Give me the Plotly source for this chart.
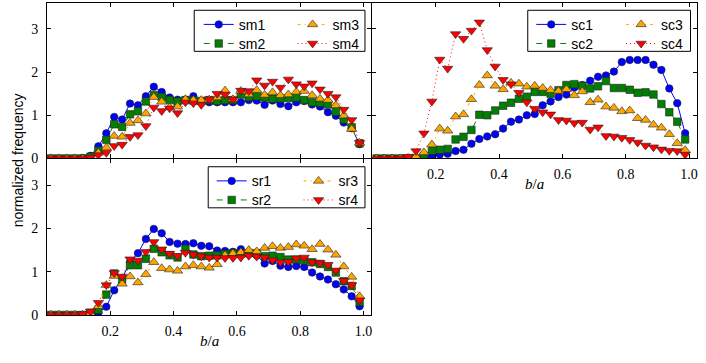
import plotly.graph_objects as go

W, H = 706, 363

# bin centres of b/a
x_centres = [0.0125, 0.0375, 0.0625, 0.0875, 0.1125, 0.1375, 0.1625, 0.1875, 0.2125, 0.2375,
             0.2625, 0.2875, 0.3125, 0.3375, 0.3625, 0.3875, 0.4125, 0.4375, 0.4625, 0.4875,
             0.5125, 0.5375, 0.5625, 0.5875, 0.6125, 0.6375, 0.6625, 0.6875, 0.7125, 0.7375,
             0.7625, 0.7875, 0.8125, 0.8375, 0.8625, 0.8875, 0.9125, 0.9375, 0.9625, 0.9875]

sm1 = [0, 0, 0, 0, 0.01, 0.06, 0.28, 0.58, 0.96, 0.90, 1.27, 1.23, 1.44, 1.66, 1.54, 1.41, 1.36, 1.36, 1.44, 1.31,
       1.30, 1.30, 1.30, 1.30, 1.30, 1.35, 1.34, 1.24, 1.34, 1.26, 1.21, 1.30, 1.33, 1.25, 1.20, 1.07, 0.99, 0.83, 0.70, 0.33]
sm2 = [0, 0, 0, 0, 0, 0.04, 0.18, 0.43, 0.79, 0.73, 1.02, 1.09, 1.32, 1.47, 1.42, 1.35, 1.32, 1.35, 1.34, 1.33,
       1.35, 1.33, 1.35, 1.35, 1.48, 1.42, 1.44, 1.41, 1.38, 1.39, 1.40, 1.41, 1.35, 1.30, 1.29, 1.25, 1.08, 0.90, 0.72, 0.35]
sm3 = [0, 0, 0, 0, 0, 0, 0.13, 0.25, 0.52, 0.50, 0.82, 0.88, 1.04, 1.42, 1.31, 1.18, 1.20, 1.37, 1.35, 1.35,
       1.36, 1.41, 1.57, 1.37, 1.56, 1.48, 1.58, 1.47, 1.53, 1.46, 1.48, 1.54, 1.56, 1.46, 1.38, 1.35, 1.23, 0.99, 0.68, 0.36]
sm4 = [0, 0, 0, 0, 0, 0.02, 0.08, 0.13, 0.29, 0.32, 0.50, 0.54, 0.75, 1.18, 1.10, 1.16, 1.05, 1.30, 1.28, 1.24,
       1.37, 1.50, 1.48, 1.37, 1.57, 1.56, 1.81, 1.69, 1.78, 1.64, 1.83, 1.72, 1.67, 1.74, 1.60, 1.50, 1.42, 1.13, 0.89, 0.36]

sc1 = [0, 0, 0, 0, 0, 0, 0.03, 0.06, 0.09, 0.11, 0.17, 0.20, 0.34, 0.45, 0.51, 0.56, 0.69, 0.85, 0.90, 1.00,
       1.03, 1.23, 1.32, 1.42, 1.48, 1.64, 1.70, 1.80, 1.89, 1.92, 2.01, 2.23, 2.28, 2.28, 2.28, 2.17, 2.05, 1.62, 1.28, 0.58]
sc2 = [0, 0, 0, 0, 0, 0, 0.05, 0.18, 0.20, 0.22, 0.44, 0.50, 0.66, 1.01, 1.00, 1.11, 1.22, 1.29, 1.38, 1.43,
       1.54, 1.54, 1.50, 1.58, 1.70, 1.72, 1.68, 1.62, 1.67, 1.79, 1.63, 1.63, 1.59, 1.52, 1.53, 1.48, 1.26, 1.07, 0.85, 0.44]
sc3 = [0, 0, 0, 0, 0.01, 0.04, 0.14, 0.32, 0.69, 0.64, 0.97, 1.02, 1.37, 1.70, 1.92, 1.68, 1.60, 1.75, 1.73, 1.66,
       1.68, 1.63, 1.58, 1.56, 1.60, 1.46, 1.55, 1.30, 1.36, 1.20, 1.17, 1.09, 1.11, 0.93, 0.89, 0.78, 0.71, 0.56, 0.35, 0.19]
sc4 = [0, 0, 0, 0, 0.04, 0.17, 0.58, 1.32, 2.29, 2.08, 2.88, 2.77, 2.96, 3.15, 2.51, 2.13, 1.82, 1.72, 1.52, 1.30,
       1.15, 1.07, 1.02, 0.89, 0.88, 0.82, 0.83, 0.67, 0.72, 0.52, 0.51, 0.48, 0.43, 0.37, 0.30, 0.26, 0.21, 0.18, 0.17, 0.09]

sr1 = [0, 0, 0, 0, 0, 0.02, 0.05, 0.19, 0.57, 0.85, 1.22, 1.43, 1.76, 1.99, 1.89, 1.69, 1.65, 1.64, 1.66, 1.60,
       1.59, 1.49, 1.48, 1.46, 1.52, 1.42, 1.38, 1.19, 1.25, 1.14, 1.11, 1.13, 1.11, 0.98, 0.89, 0.82, 0.71, 0.59, 0.43, 0.20]
sr2 = [0, 0, 0, 0, 0, 0.05, 0.12, 0.47, 0.96, 0.82, 1.15, 1.15, 1.30, 1.53, 1.45, 1.38, 1.33, 1.53, 1.40, 1.36,
       1.37, 1.38, 1.41, 1.43, 1.42, 1.43, 1.43, 1.36, 1.37, 1.34, 1.28, 1.28, 1.26, 1.22, 1.18, 1.11, 0.98, 0.78, 0.67, 0.30]
sr3 = [0, 0, 0, 0, 0, 0.03, 0.20, 0.69, 0.90, 0.72, 0.89, 0.75, 0.94, 1.22, 1.08, 1.05, 1.02, 1.12, 1.15, 1.12,
       1.09, 1.17, 1.38, 1.42, 1.45, 1.50, 1.47, 1.55, 1.59, 1.55, 1.57, 1.63, 1.60, 1.52, 1.64, 1.51, 1.39, 1.12, 0.88, 0.43]
sr4 = [0, 0, 0, 0, 0.02, 0.08, 0.28, 0.69, 0.97, 0.89, 1.29, 1.26, 1.46, 1.69, 1.52, 1.42, 1.37, 1.44, 1.40, 1.36,
       1.33, 1.33, 1.32, 1.32, 1.33, 1.37, 1.35, 1.33, 1.27, 1.22, 1.23, 1.31, 1.33, 1.22, 1.20, 1.16, 1.03, 0.79, 0.69, 0.34]

x_ticks = [0.2, 0.4, 0.6, 0.8, 1.0]
y_ticks = [0, 1, 2, 3]

styles = [
    dict(color="#0000ff", symbol="circle", size=7.5, dash="solid"),
    dict(color="#008000", symbol="square", size=7.5, dash="6px,6px"),
    dict(color="#ffa500", symbol="triangle-up", size=9, dash="3px,4px,1px,4px"),
    dict(color="#ff0000", symbol="triangle-down", size=9, dash="1px,3px"),
]


def px_x(p):
    return p / W


def px_y(p):
    return 1 - p / H


# (x axis, y axis, series, legend anchor positions (left px, top px) for each entry)
panels = [
    ("x", "y", [("sm1", sm1), ("sm2", sm2), ("sm3", sm3), ("sm4", sm4)],
     [(199, 9), (199, 28.5), (293, 9), (293, 28.5)]),
    ("x2", "y2", [("sc1", sc1), ("sc2", sc2), ("sc3", sc3), ("sc4", sc4)],
     [(532, 9), (532, 28.5), (622, 9), (622, 28.5)]),
    ("x3", "y3", [("sr1", sr1), ("sr2", sr2), ("sr3", sr3), ("sr4", sr4)],
     [(212, 169), (212, 188.5), (299, 169), (299, 188.5)]),
]

sans = "Liberation Sans, Arial, sans-serif"
serif = "Liberation Serif, Times New Roman, serif"
leg_font = dict(family=sans, size=14, color="black")

fig = go.Figure()
legends = {}
n = 0
for xa, ya, series, legpos in panels:
    for k, (name, vals) in enumerate(series):
        st = styles[k]
        n += 1
        lid = "legend" if n == 1 else "legend%d" % n
        lx, ly = legpos[k]
        legends[lid] = dict(x=px_x(lx), y=px_y(ly), xanchor="left", yanchor="top",
                            xref="paper", yref="paper", bgcolor="rgba(0,0,0,0)",
                            borderwidth=0, font=leg_font, orientation="v")
        fig.add_trace(go.Scatter(
            x=x_centres, y=vals, name=name, xaxis=xa, yaxis=ya,
            mode="lines+markers",
            line=dict(color=st["color"], width=1, dash=st["dash"]),
            marker=dict(color=st["color"], symbol=st["symbol"], size=st["size"],
                        line=dict(color="#222222", width=0.6)),
            legend=lid,
        ))

x_left = [px_x(47), px_x(372)]
x_right = [px_x(373), px_x(698)]
y_top = [px_y(162), px_y(3)]
y_bot = [px_y(322), px_y(163)]

axis_common = dict(showline=True, linecolor="black", linewidth=1, mirror="ticks",
                   ticks="inside", ticklen=4, tickcolor="black", tickwidth=1,
                   showgrid=False, zeroline=False,
                   tickfont=dict(family=serif, size=14, color="black"))

xcommon = dict(axis_common, range=[0, 1.025], tickvals=x_ticks, tickformat=".1f")
ycommon = dict(axis_common, range=[0, 3.6], tickvals=y_ticks)

box_line = dict(color="black", width=1)
shapes = [
    dict(type="rect", xref="paper", yref="paper", x0=px_x(194.5), x1=px_x(365.5), y0=px_y(52.5), y1=px_y(10.5),
         line=box_line, fillcolor="rgba(0,0,0,0)", layer="above"),
    dict(type="rect", xref="paper", yref="paper", x0=px_x(528.5), x1=px_x(691.5), y0=px_y(52.5), y1=px_y(10.5),
         line=box_line, fillcolor="rgba(0,0,0,0)", layer="above"),
    dict(type="rect", xref="paper", yref="paper", x0=px_x(208.5), x1=px_x(365.5), y0=px_y(212.5), y1=px_y(170.5),
         line=box_line, fillcolor="rgba(0,0,0,0)", layer="above"),
]

label_font = dict(family=serif, size=15, color="black")
annotations = [
    dict(text="<i>b</i>/<i>a</i>", x=px_x(535.5), y=px_y(188), xref="paper", yref="paper",
         showarrow=False, font=label_font, xanchor="center", yanchor="middle"),
    dict(text="<i>b</i>/<i>a</i>", x=px_x(209.5), y=px_y(349), xref="paper", yref="paper",
         showarrow=False, font=label_font, xanchor="center", yanchor="middle"),
    dict(text="normalized frequency", x=px_x(17.5), y=px_y(163.5), xref="paper", yref="paper",
         showarrow=False, textangle=-90, xanchor="center", yanchor="middle",
         font=dict(family=sans, size=14, color="black")),
]

fig.update_layout(
    width=W, height=H, margin=dict(l=0, r=0, t=0, b=0),
    paper_bgcolor="white", plot_bgcolor="rgba(0,0,0,0)",
    xaxis=dict(xcommon, domain=x_left, anchor="y", showticklabels=False),
    yaxis=dict(ycommon, domain=y_top, anchor="x", ticklabelstandoff=5),
    xaxis2=dict(xcommon, domain=x_right, anchor="y2", ticklabelstandoff=3),
    yaxis2=dict(ycommon, domain=y_top, anchor="x2", showticklabels=False),
    xaxis3=dict(xcommon, domain=x_left, anchor="y3", ticklabelstandoff=3),
    yaxis3=dict(ycommon, domain=y_bot, anchor="x3", ticklabelstandoff=5),
    shapes=shapes,
    annotations=annotations,
    showlegend=True,
    **legends,
)

fig.write_html("out.html", config={"displayModeBar": False},
               post_script="document.body.style.margin='0px';document.body.style.padding='0px';")
